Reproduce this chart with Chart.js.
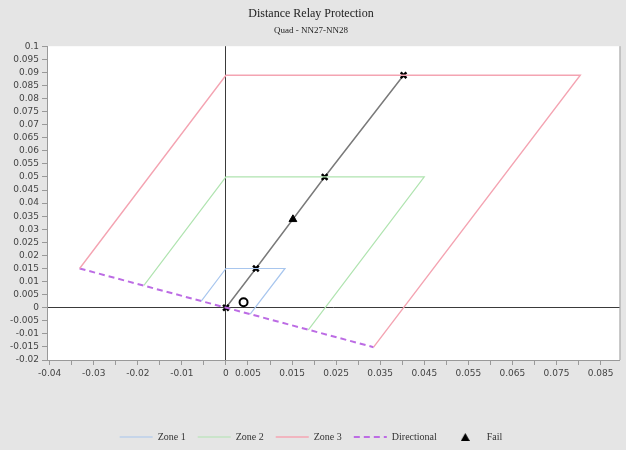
<!DOCTYPE html>
<html>
<head>
<meta charset="utf-8">
<script src="https://cdn.jsdelivr.net/npm/chart.js@4.4.1/dist/chart.umd.min.js"></script>
<style>
    html, body { margin: 0; padding: 0; background: #e5e5e5; }
    #wrap { width: 626px; height: 450px; }
</style>
</head>
<body>
<div id="wrap"><canvas id="relayChart" width="626" height="450"></canvas></div>
<script>
// Quadrilateral zone outlines, R (x) and X (y)
const zone1R = [-0.0056, 0, 0.0134, 0.0055];
const zone1X = [0.0025, 0.015, 0.015, -0.0025];
const zone2R = [-0.0186, 0, 0.045, 0.0187];
const zone2X = [0.0085, 0.05, 0.05, -0.0085];
const zone3R = [-0.0332, 0, 0.0804, 0.0335];
const zone3X = [0.015, 0.0889, 0.0889, -0.0151];
const directionalR = [-0.0332, 0.0335];
const directionalX = [0.015, -0.0151];

// Line impedance with its reach markers
const lineR = [0, 0.0068, 0.0224, 0.0403];
const lineX = [0, 0.015, 0.05, 0.0889];

// Test points
const failR = [0.0152];
const failX = [0.0338];
const faultR = [0.004];
const faultX = [0.0021];

// Axis ticks
const xTickValues = [-0.04, -0.035, -0.03, -0.025, -0.02, -0.015, -0.01, -0.005, 0, 0.005, 0.01, 0.015, 0.02,
    0.025, 0.03, 0.035, 0.04, 0.045, 0.05, 0.055, 0.06, 0.065, 0.07, 0.075, 0.08, 0.085];
const xTickLabels = ['-0.04', '-0.03', '-0.02', '-0.01', '0', '0.005', '0.015', '0.025', '0.035',
    '0.045', '0.055', '0.065', '0.075', '0.085'];
const yTickValues = [-0.02, -0.015, -0.01, -0.005, 0, 0.005, 0.01, 0.015, 0.02, 0.025, 0.03, 0.035, 0.04,
    0.045, 0.05, 0.055, 0.06, 0.065, 0.07, 0.075, 0.08, 0.085, 0.09, 0.095, 0.1];

function toPoints(rs, xs) {
    return rs.map(function(r, i) { return { x: r, y: xs[i] }; });
}

function fmt(v) {
    return String(parseFloat(Number(v).toFixed(4)));
}

// small black triangle for the "Fail" legend entry
const failIcon = document.createElement('canvas');
failIcon.width = 9;
failIcon.height = 8;
(function() {
    const g = failIcon.getContext('2d');
    g.fillStyle = '#000';
    g.beginPath();
    g.moveTo(4.5, 0);
    g.lineTo(9, 8);
    g.lineTo(0, 8);
    g.closePath();
    g.fill();
})();

// white plot area + right frame line on a grey page
const plotBackground = {
    id: 'plotBackground',
    afterLayout: function(chart) {
        // nudge the legend down a little
        chart.legend.top += 2;
        chart.legend.bottom += 2;
    },
    beforeDraw: function(chart) {
        const ctx = chart.ctx;
        const a = chart.chartArea;
        ctx.save();
        ctx.fillStyle = '#e5e5e5';
        ctx.fillRect(0, 0, chart.width, chart.height);
        ctx.fillStyle = '#ffffff';
        ctx.fillRect(a.left, a.top, a.right - a.left, a.bottom - a.top);
        ctx.strokeStyle = '#a0a0a0';
        ctx.lineWidth = 1;
        ctx.beginPath();
        ctx.moveTo(a.right + 0.5, a.top);
        ctx.lineTo(a.right + 0.5, a.bottom);
        ctx.stroke();
        ctx.restore();
    }
};

const tickFont = { family: "'DejaVu Sans', sans-serif", size: 9 };

function zeroLine(c) {
    return (c.tick && Math.abs(c.tick.value) < 1e-9) ? '#3a3a3a' : 'rgba(0,0,0,0)';
}

const ctx = document.getElementById('relayChart').getContext('2d');
const relayChart = new Chart(ctx, {
    type: 'scatter',
    data: {
        datasets: [
            {
                label: 'Zone 1',
                data: toPoints(zone1R, zone1X),
                showLine: true,
                borderColor: 'rgb(168, 198, 238)',
                backgroundColor: 'rgb(168, 198, 238)',
                borderWidth: 1.2,
                pointRadius: 0,
                legendStyle: 'line'
            },
            {
                label: 'Zone 2',
                data: toPoints(zone2R, zone2X),
                showLine: true,
                borderColor: 'rgb(176, 228, 176)',
                backgroundColor: 'rgb(176, 228, 176)',
                borderWidth: 1.2,
                pointRadius: 0,
                legendStyle: 'line'
            },
            {
                label: 'Zone 3',
                data: toPoints(zone3R, zone3X),
                showLine: true,
                borderColor: 'rgb(244, 164, 178)',
                backgroundColor: 'rgb(244, 164, 178)',
                borderWidth: 1.4,
                pointRadius: 0,
                legendStyle: 'line'
            },
            {
                label: 'Directional',
                data: toPoints(directionalR, directionalX),
                showLine: true,
                borderColor: 'rgb(188, 108, 228)',
                backgroundColor: 'rgb(188, 108, 228)',
                borderWidth: 2,
                borderDash: [6, 4],
                pointRadius: 0,
                legendStyle: 'line'
            },
            {
                label: 'Fail',
                data: toPoints(failR, failX),
                pointStyle: 'triangle',
                pointRadius: 4.5,
                backgroundColor: '#000000',
                borderColor: '#000000',
                borderWidth: 1,
                legendStyle: failIcon
            },
            {
                label: 'Line',
                data: toPoints(lineR, lineX),
                showLine: true,
                borderColor: '#7a7a7a',
                borderWidth: 1.5,
                pointStyle: 'crossRot',
                pointRadius: 4,
                pointBorderWidth: 2.5,
                pointBorderColor: '#000000'
            },
            {
                label: 'Fault',
                data: toPoints(faultR, faultX),
                pointStyle: 'circle',
                pointRadius: 4,
                borderWidth: 2,
                borderColor: '#000000',
                backgroundColor: 'rgba(255,255,255,0)'
            }
        ]
    },
    options: {
        responsive: false,
        animation: false,
        layout: { padding: { left: 0, right: 4, top: 0, bottom: 0 } },
        plugins: {
            title: {
                display: true,
                text: 'Distance Relay Protection',
                color: '#222',
                font: { family: "'Liberation Serif', serif", size: 12, weight: 'normal' },
                padding: { top: 7, bottom: 0 }
            },
            subtitle: {
                display: true,
                text: 'Quad - NN27-NN28',
                color: '#222',
                font: { family: "'Liberation Serif', serif", size: 9, weight: 'normal' },
                padding: { top: 4, bottom: 10 }
            },
            legend: {
                position: 'bottom',
                labels: {
                    usePointStyle: true,
                    pointStyleWidth: 33,
                    boxHeight: 6,
                    padding: 12,
                    color: '#333',
                    font: { family: "'Liberation Serif', serif", size: 10 },
                    generateLabels: function(chart) {
                        return chart.data.datasets
                            .map(function(ds, i) {
                                return {
                                    text: ds.label,
                                    datasetIndex: i,
                                    fillStyle: ds.backgroundColor,
                                    strokeStyle: ds.borderColor,
                                    lineWidth: ds.borderWidth,
                                    lineDash: ds.borderDash || [],
                                    pointStyle: ds.legendStyle,
                                    fontColor: '#333',
                                    hidden: false
                                };
                            })
                            .filter(function(item) { return item.pointStyle; });
                    }
                }
            },
            tooltip: { enabled: false }
        },
        scales: {
            x: {
                type: 'linear',
                min: -0.0406,
                max: 0.0893,
                afterBuildTicks: function(scale) {
                    scale.ticks = xTickValues.map(function(v) { return { value: v }; });
                },
                afterFit: function(scale) { scale.height = 58; },
                ticks: {
                    autoSkip: false,
                    maxRotation: 0,
                    color: '#444',
                    font: tickFont,
                    padding: 3,
                    callback: function(v) {
                        const s = fmt(v);
                        return xTickLabels.indexOf(s) >= 0 ? s : '';
                    }
                },
                grid: { color: zeroLine, tickColor: '#999', tickLength: 5, lineWidth: 1 },
                border: { display: true, color: '#999' }
            },
            y: {
                type: 'linear',
                min: -0.02,
                max: 0.1,
                afterBuildTicks: function(scale) {
                    scale.ticks = yTickValues.map(function(v) { return { value: v }; });
                },
                afterFit: function(scale) { scale.width = 47; },
                ticks: {
                    autoSkip: false,
                    color: '#444',
                    font: tickFont,
                    padding: 3,
                    callback: function(v) { return fmt(v); }
                },
                grid: { color: zeroLine, tickColor: '#999', tickLength: 5, lineWidth: 1 },
                border: { display: true, color: '#999' }
            }
        }
    },
    plugins: [plotBackground]
});
</script>
</body>
</html>
